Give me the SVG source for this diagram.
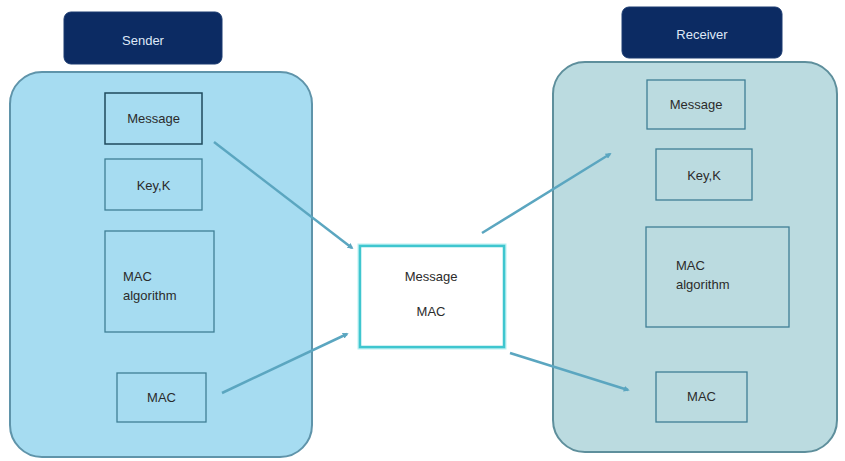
<svg xmlns="http://www.w3.org/2000/svg" width="845" height="461" viewBox="0 0 845 461">
<defs>
<style>
.t{font-family:"Liberation Sans",Arial,sans-serif;font-size:13px;fill:#2b2b2b}
.title{font-family:"Liberation Sans",Arial,sans-serif;font-size:13px;fill:#dfe8f7;text-anchor:middle}
.ib{fill:none;stroke:#3f7f96;stroke-width:1.3}
.hdr{fill:#0c2b63;stroke:#1a3a70;stroke-width:1}
.conn{stroke:#5ba6c0;stroke-width:2.5;fill:none;marker-end:url(#ah)}
</style>
<marker id="ah" viewBox="0 0 10 10" refX="7" refY="5" markerWidth="2.4" markerHeight="2.4" orient="auto">
<path d="M0,0 L10,5 L0,10 z" fill="#5ba6c0"/>
</marker>
</defs>
<rect width="845" height="461" fill="#ffffff"/>
<g id="sender">
<rect x="10" y="72" width="302" height="385" rx="32" fill="#a6dcf1" stroke="#5f94aa" stroke-width="2"/>
<rect class="hdr" x="64" y="12" width="158" height="52" rx="7"/>
<text class="title" x="143" y="45">Sender</text>
</g>
<g id="s-message"><rect x="105" y="93" width="97" height="51" fill="none" stroke="#1f4a5c" stroke-width="1.5"/><text class="t" x="153.5" y="123" text-anchor="middle">Message</text></g>
<g id="s-key"><rect class="ib" x="105" y="159" width="97" height="51"/><text class="t" x="153.5" y="190" text-anchor="middle">Key,K</text></g>
<g id="s-alg"><rect class="ib" x="105" y="231" width="109" height="101"/><text class="t" x="123" y="281">MAC</text><text class="t" x="123" y="300">algorithm</text></g>
<g id="s-mac"><rect class="ib" x="117" y="373" width="89" height="49"/><text class="t" x="161.5" y="402" text-anchor="middle">MAC</text></g>
<g id="receiver">
<rect x="553" y="62" width="284" height="390" rx="32" fill="#bbdbe0" stroke="#5e8f9c" stroke-width="2"/>
<rect class="hdr" x="622" y="7" width="160" height="51" rx="7"/>
<text class="title" x="702" y="39">Receiver</text>
</g>
<g id="r-message"><rect class="ib" x="647" y="80" width="98" height="49"/><text class="t" x="696" y="109" text-anchor="middle">Message</text></g>
<g id="r-key"><rect class="ib" x="656" y="149" width="96" height="51"/><text class="t" x="704" y="180" text-anchor="middle">Key,K</text></g>
<g id="r-alg"><rect class="ib" x="646" y="227" width="143" height="100"/><text class="t" x="676" y="270">MAC</text><text class="t" x="676" y="289">algorithm</text></g>
<g id="r-mac"><rect class="ib" x="656" y="372" width="91" height="50"/><text class="t" x="701.5" y="401" text-anchor="middle">MAC</text></g>
<g id="center">
<rect x="360" y="246" width="144" height="101" fill="#ffffff" stroke="#8ce6ea" stroke-width="5" opacity="0.6"/>
<rect x="360" y="246" width="144" height="101" fill="#ffffff" stroke="#3fc6cf" stroke-width="2.5"/>
<text class="t" x="431" y="281" text-anchor="middle">Message</text>
<text class="t" x="431" y="316" text-anchor="middle">MAC</text>
</g>
<g id="connectors">
<line class="conn" x1="214" y1="142" x2="352" y2="248"/>
<line class="conn" x1="222" y1="393" x2="347" y2="334"/>
<line class="conn" x1="482" y1="233" x2="610" y2="154"/>
<line class="conn" x1="510" y1="353" x2="628" y2="390"/>
</g>
</svg>
